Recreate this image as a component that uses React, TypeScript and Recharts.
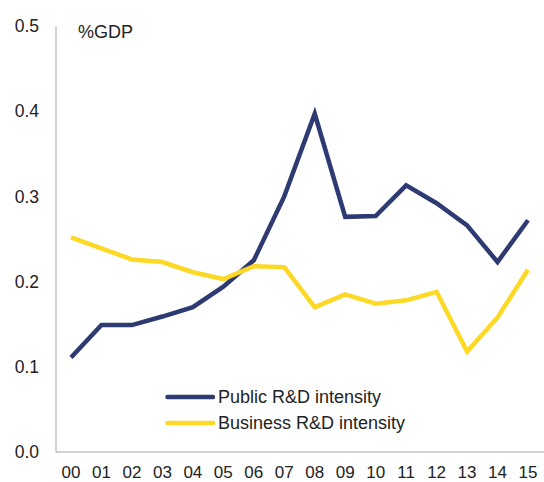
import React from "react";
import { LineChart, Line, XAxis, YAxis, Customized } from "recharts";

const years = ["00","01","02","03","04","05","06","07","08","09","10","11","12","13","14","15"];
const publicRD = [0.111,0.149,0.149,0.159,0.170,0.194,0.225,0.300,0.397,0.276,0.277,0.313,0.292,0.266,0.223,0.272];
const businessRD = [0.252,0.239,0.226,0.223,0.211,0.203,0.218,0.217,0.170,0.185,0.174,0.178,0.188,0.118,0.158,0.214];
const yTicks = [0, 0.1, 0.2, 0.3, 0.4, 0.5];
const seriesNames = ["Public R&D intensity", "Business R&D intensity"];

const data = years.map((y, i) => ({ year: y, pub: publicRD[i], bus: businessRD[i] }));

const NAVY = "#2E3A72";
const YELLOW = "#FDD825";
const COLORS = [NAVY, YELLOW];
const FONT = "'Liberation Sans', Arial, sans-serif";

export default function App() {
  return (
    <div style={{ position: "absolute", left: 0, top: 0, width: 544, height: 482 }}>
      <LineChart width={544} height={482} data={data} margin={{ top: 26, right: 0, left: 0, bottom: 0 }}>
        <XAxis
          dataKey="year"
          height={30}
          padding={{ left: 15, right: 16 }}
          tickLine={false}
          tickSize={0}
          tickMargin={14}
          stroke="#a6a6a6"
          tick={{ fill: "#222", fontSize: 17, fontFamily: FONT }}
          interval={0}
        />
        <YAxis
          width={56}
          domain={[0, 0.5]}
          ticks={yTicks}
          tickFormatter={(v: number) => v.toFixed(1)}
          tickLine={false}
          tickSize={0}
          tickMargin={17}
          stroke="#a6a6a6"
          tick={{ fill: "#222", fontSize: 17.5, fontFamily: FONT }}
        />
        <Line dataKey="pub" name={seriesNames[0]} stroke={NAVY} strokeWidth={4.5} dot={false} isAnimationActive={false} />
        <Line dataKey="bus" name={seriesNames[1]} stroke={YELLOW} strokeWidth={4.5} dot={false} isAnimationActive={false} />
        <Customized
          component={() => (
            <text x={78} y={38} fontSize={18} fontFamily={FONT} fill="#222">%GDP</text>
          )}
        />
      </LineChart>
      <div style={{ position: "absolute", left: 165, top: 384, fontFamily: FONT, fontSize: 18, color: "#222" }}>
        {seriesNames.map((n, i) => (
          <div key={n} style={{ display: "flex", alignItems: "center", height: 26 }}>
            <svg width={50} height={6} style={{ marginRight: 3 }}>
              <line x1={2.5} y1={3} x2={48} y2={3} stroke={COLORS[i]} strokeWidth={4.5} strokeLinecap="round" />
            </svg>
            <span style={{ whiteSpace: "nowrap" }}>{n}</span>
          </div>
        ))}
      </div>
    </div>
  );
}
